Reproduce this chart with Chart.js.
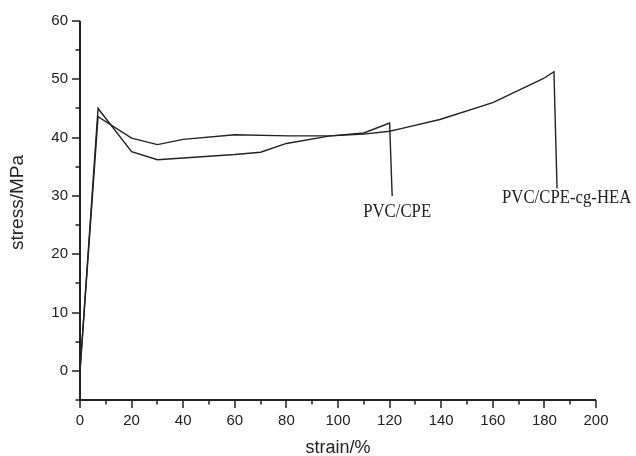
<!DOCTYPE html>
<html>
<head>
<meta charset="utf-8">
<script src="https://cdn.jsdelivr.net/npm/chart.js@4"></script>
<style>
  html, body { margin: 0; padding: 0; background: #fff; }
  #wrap { width: 636px; height: 456px; }
</style>
</head>
<body>
<div id="wrap"><canvas id="stressChart" width="636" height="456"></canvas></div>
<script>
// data
const strainCPE = [0, 7, 20, 30, 60, 70, 80, 97, 110, 120, 121];
const stressCPE = [0, 45, 37.6, 36.2, 37.1, 37.5, 39, 40.3, 40.8, 42.5, 30];
const strainHEA = [0, 7, 20, 30, 40, 60, 81, 97, 110, 120, 124, 139.5, 160, 179.5, 183.7, 184.9];
const stressHEA = [0, 43.6, 39.9, 38.8, 39.7, 40.5, 40.3, 40.3, 40.6, 41.1, 41.5, 43.1, 46, 50.1, 51.3, 31.3];
const seriesNames = ['PVC/CPE', 'PVC/CPE-cg-HEA'];
const yTitle = 'stress/MPa';
const xTitle = 'strain/%';

const ink = '#222';
const sans = '"Liberation Sans", Arial, sans-serif';

function toPoints(xs, ys) {
    return xs.map((x, i) => ({x: x, y: ys[i]}));
}

// narrow serif text, like the original label font
function squeezedText(ctx, text, x, y, align) {
    const sx = 0.93;
    const w = ctx.measureText(text).width * sx;
    const startX = align === 'center' ? x - w / 2 : x;
    ctx.save();
    ctx.translate(startX, y);
    ctx.scale(sx, 1);
    ctx.textAlign = 'left';
    ctx.fillText(text, 0, 0);
    ctx.restore();
}

// axes lines + major/minor ticks, y title and curve end labels
const axisPlugin = {
    id: 'axisPlugin',
    afterDraw(chart) {
        const ctx = chart.ctx;
        const xs = chart.scales.x, ys = chart.scales.y;
        const left = xs.left, right = xs.right, top = ys.top, bottom = ys.bottom;
        ctx.save();
        ctx.strokeStyle = ink;
        ctx.lineWidth = 2;
        ctx.beginPath();
        ctx.moveTo(left, top);
        ctx.lineTo(left, bottom);
        ctx.lineTo(right, bottom);
        ctx.stroke();
        ctx.lineWidth = 1.5;
        ctx.beginPath();
        for (let v = 0; v <= 200; v += 10) {
            const px = Math.round(xs.getPixelForValue(v));
            const len = v % 20 === 0 ? 8 : 4.5;
            ctx.moveTo(px, bottom);
            ctx.lineTo(px, bottom + len);
        }
        for (let v = -5; v <= 60; v += 5) {
            const py = Math.round(ys.getPixelForValue(v));
            const len = (v % 10 === 0) ? 8 : 4.5;
            ctx.moveTo(left, py);
            ctx.lineTo(left - len, py);
        }
        ctx.stroke();

        // y title, a little above the middle like the original
        ctx.fillStyle = ink;
        ctx.font = '19px ' + sans;
        ctx.textAlign = 'center';
        ctx.textBaseline = 'middle';
        ctx.save();
        ctx.translate(18, (top + bottom) / 2 - 8);
        ctx.rotate(-Math.PI / 2);
        ctx.fillText(yTitle, 0, 0);
        ctx.restore();

        // series labels near the end of each curve
        ctx.font = '18px "Liberation Serif", serif';
        const endA = chart.getDatasetMeta(0).data.at(-1);
        const endB = chart.getDatasetMeta(1).data.at(-1);
        squeezedText(ctx, seriesNames[0], endA.x + 5, endA.y + 16, 'center');
        squeezedText(ctx, seriesNames[1], endB.x - 55, endB.y + 10, 'left');
        ctx.restore();
    }
};

const ctx = document.getElementById('stressChart').getContext('2d');
window.stressChart = new Chart(ctx, {
    type: 'line',
    data: {
        datasets: [{
            label: seriesNames[0],
            data: toPoints(strainCPE, stressCPE),
            borderColor: ink,
            borderWidth: 1.4,
            pointRadius: 0,
            tension: 0,
            fill: false
        }, {
            label: seriesNames[1],
            data: toPoints(strainHEA, stressHEA),
            borderColor: ink,
            borderWidth: 1.4,
            pointRadius: 0,
            tension: 0,
            fill: false
        }]
    },
    options: {
        responsive: false,
        animation: false,
        layout: {
            padding: {left: 0, right: 40, top: 20, bottom: 0}
        },
        plugins: {
            legend: { display: false },
            tooltip: { enabled: false }
        },
        scales: {
            x: {
                type: 'linear',
                min: 0,
                max: 200,
                grid: { display: false, drawTicks: false },
                border: { display: false },
                ticks: {
                    stepSize: 20,
                    padding: 12,
                    color: ink,
                    font: { family: sans, size: 15 }
                },
                title: {
                    display: true,
                    text: xTitle,
                    color: ink,
                    padding: { top: 0, bottom: 0 },
                    font: { family: sans, size: 18, lineHeight: 0.85 }
                },
                afterFit: function(scale) { scale.height = 56; }
            },
            y: {
                min: -5,
                max: 60,
                grid: { display: false, drawTicks: false },
                border: { display: false },
                ticks: {
                    stepSize: 10,
                    padding: 12,
                    color: ink,
                    font: { family: sans, size: 15 },
                    callback: function(v) { return (v >= 0 && v % 10 === 0) ? v : ''; }
                },
                afterFit: function(scale) { scale.width = 80; }
            }
        }
    },
    plugins: [axisPlugin]
});
</script>
</body>
</html>
